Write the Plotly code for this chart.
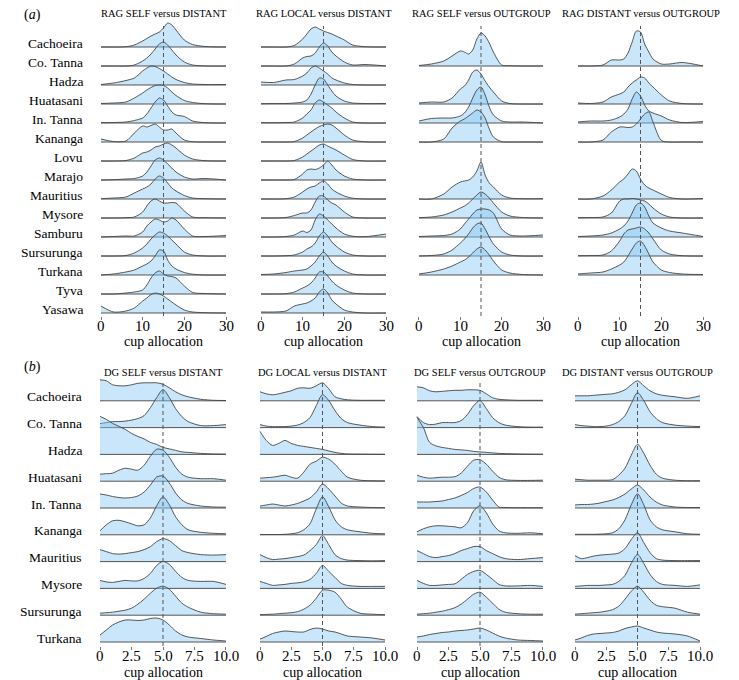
import plotly.graph_objects as go

# ---------------- data ----------------
X_A = [0, 3, 6, 8, 10, 11, 12, 13, 14, 15, 16, 17, 18, 20, 22, 25, 30]
X_B = [0, 0.5, 1, 1.5, 2, 2.5, 3, 3.5, 4, 4.5, 5, 5.5, 6, 6.5, 7, 8, 9, 10]
TICKS_A = [0, 10, 20, 30]
TICKTEXT_A = ["0", "10", "20", "30"]
TICKS_B = [0, 2.5, 5, 7.5, 10]
TICKTEXT_B = ["0", "2.5", "5.0", "7.5", "10.0"]

SITES_A = ["Cachoeira", "Co. Tanna", "Hadza", "Huatasani", "In. Tanna", "Kananga", "Lovu",
           "Marajo", "Mauritius", "Mysore", "Samburu", "Sursurunga", "Turkana", "Tyva", "Yasawa"]
SITES_B = ["Cachoeira", "Co. Tanna", "Hadza", "Huatasani", "In. Tanna", "Kananga",
           "Mauritius", "Mysore", "Sursurunga", "Turkana"]

# density heights (relative units) at the X_A / X_B grid points
RAG_SELF_DISTANT = {
    "Cachoeira": [0, 0, 0.3, 2, 6, 8.5, 11, 13, 15, 19, 24, 22, 17, 7, 2.5, 0.5, 0],
    "Co. Tanna": [0, 0, 0, 1, 5, 8, 12, 17, 22, 24, 21, 16, 11, 4, 1, 0, 0],
    "Hadza": [0.5, 2, 4.5, 7, 14, 17, 19, 18.5, 16.5, 14, 11, 8, 5.5, 2.5, 1, 0.5, 0.5],
    "Huatasani": [0.5, 1, 2, 6, 11, 14, 16.5, 18.5, 19, 18.5, 16, 12, 8.5, 3.5, 1.5, 0.3, 0],
    "In. Tanna": [0.3, 0.5, 1, 2.5, 5, 9, 15, 21, 25, 23, 17, 11, 8, 6.5, 2, 0.3, 0],
    "Kananga": [3, 0.5, 1, 9, 16, 15, 16.5, 18, 15, 12, 12, 13, 9, 2, 0.3, 0, 0],
    "Lovu": [0, 0, 0.5, 3, 8, 9, 11, 14, 15, 17, 18, 16, 13, 6, 2, 0.3, 0],
    "Marajo": [0, 0.3, 1, 1.5, 4, 8, 14, 20, 22, 20, 16, 12, 8, 3, 1, 1.5, 0],
    "Mauritius": [0.3, 1, 2, 6, 10, 12, 15, 20, 23, 21, 16, 11, 8, 3.5, 1, 0.3, 0],
    "Mysore": [0, 0, 0.3, 1, 6, 12, 17, 19, 17, 15, 15, 15.5, 15, 7, 1, 0.3, 0],
    "Samburu": [0, 0.5, 1, 1, 5, 11, 15, 18, 17, 15, 16, 19, 17, 8, 1, 0.5, 1.5],
    "Sursurunga": [0, 0, 0.5, 3, 8, 12, 17, 21, 24, 23, 20, 16, 12, 4, 1, 0, 0],
    "Turkana": [0, 1, 3, 5, 9, 11, 14, 19, 25, 24, 15, 9, 6, 2.5, 0.8, 0, 0],
    "Tyva": [0, 0, 1, 2, 4, 9, 16, 21, 23, 20, 18, 17.5, 16, 8, 1.5, 0.5, 0],
    "Yasawa": [7, 1, 2, 5, 12, 15, 18.5, 20, 19, 17, 14, 11, 8, 3, 1, 0.3, 0],
}
RAG_LOCAL_DISTANT = {
    "Cachoeira": [0, 0, 0, 1.5, 8, 13, 18, 20, 18, 16, 14.5, 13, 11, 7, 2, 0.3, 0],
    "Co. Tanna": [0, 0, 0, 2, 8, 9.5, 10, 13, 19, 23, 20, 14, 10, 4, 1, 1.5, 0],
    "Hadza": [3, 2.5, 5, 5.5, 9, 12, 17, 19, 17, 14, 11, 7, 5, 2, 0.5, 0, 0],
    "Huatasani": [0.3, 0.5, 0.5, 1, 2, 4, 10, 19, 26, 25, 19, 13, 8, 3, 1, 0.5, 0.5],
    "In. Tanna": [0.3, 0.3, 0.5, 1, 5, 9, 13, 20, 23, 21, 18, 15, 11, 5, 1, 0, 0],
    "Kananga": [0, 0, 0, 0.5, 4, 7, 10, 13, 15.5, 17, 18, 17, 14, 7, 2, 0.2, 0],
    "Lovu": [0, 0, 0, 0.5, 4, 7, 10, 13, 16, 17, 15, 13, 11, 6, 1.5, 0, 0],
    "Marajo": [0, 0, 0, 0.5, 6, 10, 11, 10.5, 12, 15, 19, 15, 10, 4, 1, 0, 0],
    "Mauritius": [0, 0, 0.3, 2, 7, 10, 12, 13, 16, 18, 15, 10, 7, 3, 0.8, 0, 0],
    "Mysore": [0, 0, 0.5, 2.5, 5, 5, 8, 16, 22, 22, 18, 15, 13, 6, 1, 0, 0],
    "Samburu": [0, 0, 0.5, 2, 6, 4.5, 7, 17, 23, 21, 17, 13, 9, 3, 0.8, 0.3, 3],
    "Sursurunga": [0, 0, 0.3, 1, 4, 7, 9, 13, 20, 24, 20, 14, 10, 4, 1, 0, 0],
    "Turkana": [0.5, 1, 2.5, 4, 5, 6, 9, 13, 19, 23, 19, 13, 9, 4, 1, 0, 0],
    "Tyva": [0, 0, 0.3, 2, 6, 8, 11, 16, 22, 22, 18, 13, 9, 4, 1, 0, 0],
    "Yasawa": [1, 1, 2, 7, 9, 10, 12, 15, 21, 24, 20, 13, 9, 3, 1, 0, 0],
}
RAG_SELF_OUTGROUP = {
    "Co. Tanna": [0.5, 2, 5, 10, 15, 14, 12, 16, 27, 33, 30, 23, 14, 1, 0.3, 0, 0],
    "Huatasani": [1, 2, 2, 6, 15, 18, 24, 32, 34, 30, 23, 17, 12, 3, 0.5, 0, 0],
    "In. Tanna": [2, 4.5, 5, 5, 7, 10, 16, 25, 33, 36, 28, 16, 8, 2, 1, 1, 0],
    "Kananga": [0, 0, 3, 14, 21, 23, 26, 29, 32, 30, 24, 13, 5, 0.3, 0, 0, 0],
    "Mauritius": [0, 0, 5, 12, 17, 18, 19, 22, 28, 37, 24, 16, 12, 4, 1, 0.3, 0.3],
    "Mysore": [0.3, 1, 3, 6, 10, 12, 15, 19, 23, 26, 24, 20, 15, 6, 2, 0.5, 0],
    "Samburu": [0.5, 1, 1.5, 3, 8, 13, 18, 23, 27, 28, 28, 27, 24, 8, 2, 1, 2],
    "Sursurunga": [0, 0.5, 2, 6, 13, 17, 22, 28, 32, 33, 27, 19, 12, 4, 1, 0, 0],
    "Turkana": [1, 3, 6, 9, 13, 15, 18, 22, 26, 28, 25, 20, 14, 5, 2, 0.5, 0],
}
RAG_DISTANT_OUTGROUP = {
    "Co. Tanna": [0, 0, 1, 6, 6, 7, 13, 24, 35, 34, 22, 14, 7, 2, 2, 3.5, 0],
    "Huatasani": [1, 0.5, 2, 7, 10, 12, 17, 21, 24, 27, 26, 21, 17, 9, 3, 0.5, 0],
    "In. Tanna": [1, 2, 2, 3, 6, 9, 14, 24, 31, 27, 18, 12, 10, 7, 3, 0.5, 1.5],
    "Kananga": [0, 0, 2, 10, 15, 15, 14.5, 15, 18, 23, 28, 30, 20, 1.5, 0, 0, 0],
    "Mauritius": [0, 0, 3, 9, 17, 20, 25, 30, 28, 20, 14, 11, 9, 5, 1.5, 0, 0.5],
    "Mysore": [0.3, 0.5, 1, 5, 17, 19, 19, 19.5, 19, 18, 17, 14, 10, 4, 1, 0, 0],
    "Samburu": [0.5, 1, 2, 4, 8, 11, 16, 24, 32, 34, 30, 21, 14, 9, 6, 4, 0.5],
    "Sursurunga": [0.3, 0.5, 1, 5, 15, 22, 26, 27, 28, 29, 27, 23, 17, 6, 2, 0.3, 0],
    "Turkana": [1, 2, 3, 6, 10, 13, 19, 26, 32, 34, 29, 21, 13, 5, 2.5, 1, 0.5],
}
DG_SELF_DISTANT = {
    "Cachoeira": [21, 20, 16, 15, 15, 16, 17.5, 18, 18, 18, 16.5, 13, 9, 6, 4, 1.5, 0.5, 0.3],
    "Co. Tanna": [4, 5, 6, 6, 6.5, 7.5, 9, 12, 20, 30, 38, 30, 19, 11, 6, 2, 2, 3],
    "Hadza": [38, 35, 31, 28, 25, 21, 18, 15.5, 12, 10, 7, 5.5, 4, 2.5, 2, 1, 0.5, 0.3],
    "Huatasani": [7, 7.5, 8, 11, 13, 12, 11, 16, 25, 32, 31, 24, 14, 7, 4, 2.5, 2.5, 1],
    "In. Tanna": [14, 13, 11.5, 10.5, 10, 10.5, 12, 16, 23, 31, 32, 25, 15, 8, 4.5, 2, 1, 0.8],
    "Kananga": [4, 10, 14, 14.5, 13, 11, 9, 10, 17, 29, 38, 30, 18, 10, 5, 2.5, 1.5, 1],
    "Mauritius": [12, 10, 8, 7.5, 8, 9, 10, 12, 15, 20, 23, 21, 16, 11, 9, 7, 6.5, 7],
    "Mysore": [8, 6.5, 6, 7, 8, 7.5, 7.5, 10, 15, 23, 27, 24, 17, 11, 8, 7, 7, 4],
    "Sursurunga": [2, 2.5, 3, 4, 5, 7, 11, 16, 22, 27, 29, 26, 19, 12, 8, 3, 1.5, 1],
    "Turkana": [7, 12, 17, 20, 22, 22, 21.5, 22, 23.5, 24, 22, 17, 11, 7, 5, 3.5, 2, 1],
}
DG_LOCAL_DISTANT = {
    "Cachoeira": [9, 7, 6, 7, 8.5, 10, 12.5, 13, 12.5, 15, 18, 12, 4, 2, 1, 0.5, 0.5, 0.5],
    "Co. Tanna": [3, 1.5, 1, 1, 1, 1.5, 2.5, 5, 10, 22, 33, 27, 17, 9, 5, 2.5, 1, 0.5],
    "Hadza": [23, 14, 9, 11, 14, 11, 9, 8, 7, 6, 5, 3.5, 2, 1, 0.5, 0.3, 0.2, 0.1],
    "Huatasani": [3, 3.5, 4, 5, 6, 4, 3, 9, 17, 20, 24, 22, 17, 10, 4, 1, 0.5, 0.3],
    "In. Tanna": [2, 3, 4, 3, 2, 3, 4.5, 7, 10, 16, 24, 19, 12, 5, 2, 1, 0.5, 0.3],
    "Kananga": [0.3, 0.3, 0.3, 0.3, 0.5, 1, 2, 5, 11, 26, 38, 28, 15, 8, 5, 3, 1.5, 1],
    "Mauritius": [7, 4, 2, 2.5, 3, 4, 5, 6.5, 11, 17, 26, 17, 7, 3, 1.5, 1, 0.8, 1],
    "Mysore": [7, 5, 3, 3.5, 4, 5, 5.5, 6.5, 9, 15, 23, 17, 11, 5, 3, 2, 2, 2],
    "Sursurunga": [0.5, 0.8, 1, 1.5, 2, 2.5, 3.5, 6, 10, 17, 25, 25, 23, 16, 8, 2, 1, 0.5],
    "Turkana": [3, 5.5, 8.5, 10, 11, 10.5, 10, 10, 12.5, 14, 13, 11, 10, 8, 6, 5, 4, 2],
}
DG_SELF_OUTGROUP = {
    "Cachoeira": [14, 13, 10, 9, 9.5, 10, 10.5, 10.5, 11, 11, 10.5, 7, 3, 1.5, 1, 0.5, 0.5, 0.5],
    "Co. Tanna": [11, 5, 3, 3.5, 5, 5, 5, 7, 13, 22, 27, 19, 10, 5, 2.5, 1, 0.5, 0.5],
    "Hadza": [37, 27, 12, 8.5, 7, 6, 5, 4.5, 4, 3, 2.5, 2, 1.5, 1, 0.8, 0.5, 0.3, 0.2],
    "Huatasani": [6, 4, 3, 3.5, 4, 4, 4.5, 8, 15, 21, 21.5, 17, 10, 4, 1.5, 0.8, 0.8, 1],
    "In. Tanna": [6, 6, 6, 6.5, 7, 8.5, 10, 12.5, 15.5, 19.5, 21, 16, 8, 1, 0.5, 0.3, 0.3, 0.3],
    "Kananga": [3, 6, 8, 9, 9, 8.5, 8, 7, 12, 24, 29, 22, 11, 4, 2, 1.5, 2, 1],
    "Mauritius": [11, 8, 5, 4, 5, 6, 8, 11, 13, 15, 15, 11, 8, 5, 3, 2, 3, 4],
    "Mysore": [8, 5, 3, 3, 3.5, 4, 4.5, 9, 14, 17, 18, 14, 9, 4, 2.5, 2.5, 3, 2],
    "Sursurunga": [1, 1.5, 2, 3, 4, 5.5, 7.5, 11, 16, 21, 23, 18, 12, 6, 3, 1.5, 1, 1],
    "Turkana": [5, 6, 7.5, 8.5, 9.5, 10, 11, 11.5, 12, 13, 14, 12, 9, 6, 4, 2, 1.5, 1],
}
DG_DISTANT_OUTGROUP = {
    "Cachoeira": [5, 5, 5, 5.5, 6, 6.5, 7, 8.5, 11, 16, 20, 15, 10, 7, 5.5, 4, 2.5, 5],
    "Co. Tanna": [3, 2, 1.5, 1, 1, 1.5, 3, 6, 12, 24, 35, 27, 16, 9, 5, 2.5, 1.5, 1],
    "Huatasani": [2, 1.5, 1, 1, 1, 1, 1.5, 6, 13, 26, 37, 28, 16, 7, 3, 1, 0.5, 0.5],
    "In. Tanna": [3, 3.5, 3.5, 4, 5, 6.5, 8, 10.5, 14, 19, 23, 18, 11, 6, 3, 1, 0.5, 0.5],
    "Kananga": [0.5, 0.5, 0.5, 0.5, 0.7, 1, 2, 6, 15, 30, 41, 30, 15, 8, 5, 3, 1, 0.5],
    "Mauritius": [6, 3, 4, 5.5, 6.5, 7, 7.5, 8.5, 13, 22, 29, 19, 9, 3, 1.5, 1, 1, 1],
    "Mysore": [2, 2.5, 3, 3, 3, 3.5, 4, 7, 13, 25, 34, 25, 14, 7, 4, 3, 2, 3.5],
    "Sursurunga": [1, 1.5, 2, 2.5, 3, 4, 5.5, 9, 16, 24, 29, 23, 15, 10, 8.5, 7, 3, 1],
    "Turkana": [2, 4, 6.5, 8, 8.5, 9, 9.5, 11, 13.5, 15, 16, 14, 12, 10, 9, 8, 6, 1],
}

TITLES_A = ["RAG SELF versus DISTANT", "RAG LOCAL versus DISTANT",
            "RAG SELF versus OUTGROUP", "RAG DISTANT versus OUTGROUP"]
TITLES_B = ["DG SELF versus DISTANT", "DG LOCAL versus DISTANT",
            "DG SELF versus OUTGROUP", "DG DISTANT versus OUTGROUP"]
PANELS_A = [RAG_SELF_DISTANT, RAG_LOCAL_DISTANT, RAG_SELF_OUTGROUP, RAG_DISTANT_OUTGROUP]
PANELS_B = [DG_SELF_DISTANT, DG_LOCAL_DISTANT, DG_SELF_OUTGROUP, DG_DISTANT_OUTGROUP]

# ---------------- layout / styling ----------------
W, H = 739, 680
FONT = "Liberation Serif, Times New Roman, serif"
FILL = "rgba(135,200,245,0.45)"
LINE = "#444444"
TXT = "#000000"


def dom_x(a, b):
    return [a / W, b / W]


def dom_y(top, bottom):
    return [1 - bottom / H, 1 - top / H]


SECTIONS = [
    dict(sites=SITES_A, panels=PANELS_A, titles=TITLES_A, grid=X_A, xmax=30, mid=15,
         ticks=TICKS_A, ticktext=TICKTEXT_A, step=19.0, yname="y", yrange=[-3, 295],
         ydom=(18, 316), xrange=[-0.6, 30.6],
         xdoms=[(98.5, 228.5), (258.5, 388.5), (416.5, 545.5), (575.5, 705.5)],
         dash_top=287, title_y=13, tick_y=326, label_y=341, tag="(<i>a</i>)", tag_y=15,
         label_x=85),
    dict(sites=SITES_B, panels=PANELS_B, titles=TITLES_B, grid=X_B, xmax=10, mid=5,
         ticks=TICKS_B, ticktext=TICKTEXT_B, step=26.8, yname="y2", yrange=[-4, 276],
         ydom=(366, 646), xrange=[-0.2, 10.2],
         xdoms=[(97.5, 228.5), (257.5, 387.5), (414.5, 545.5), (572.5, 702.5)],
         dash_top=262, title_y=372, tick_y=656, label_y=672, tag="(<i>b</i>)", tag_y=367,
         label_x=84),
]

fig = go.Figure()
layout = dict(width=W, height=H, margin=dict(l=0, r=0, t=0, b=0),
              paper_bgcolor="white", plot_bgcolor="white", showlegend=False,
              font=dict(family=FONT, color=TXT))
annotations = []
shapes = []

k = 0
for si, sec in enumerate(SECTIONS):
    yax = "yaxis" if sec["yname"] == "y" else "yaxis2"
    layout[yax] = dict(domain=dom_y(*sec["ydom"]), range=sec["yrange"], visible=False,
                       fixedrange=True)
    n = len(sec["sites"])
    for p, (data, title) in enumerate(zip(sec["panels"], sec["titles"])):
        k += 1
        xname = "x" if k == 1 else f"x{k}"
        xax = "xaxis" if k == 1 else f"xaxis{k}"
        a, b = sec["xdoms"][p]
        layout[xax] = dict(domain=dom_x(a, b), range=sec["xrange"], anchor=sec["yname"],
                           tickvals=sec["ticks"], showticklabels=False,
                           ticks="outside", ticklen=3, tickcolor="#777", tickwidth=1,
                           showgrid=False, zeroline=False, showline=False, fixedrange=True)
        for i, site in enumerate(sec["sites"]):
            if site not in data:
                continue
            base = (n - 1 - i) * sec["step"]
            fig.add_trace(go.Scatter(x=[0, sec["xmax"]], y=[base, base], mode="lines",
                                     line=dict(color=LINE, width=0.9),
                                     xaxis=xname, yaxis=sec["yname"], hoverinfo="skip"))
            fig.add_trace(go.Scatter(x=sec["grid"], y=[base + v for v in data[site]],
                                     mode="lines", line=dict(color=LINE, width=0.9,
                                                             shape="spline", smoothing=0.8),
                                     fill="tonexty", fillcolor=FILL,
                                     xaxis=xname, yaxis=sec["yname"], hoverinfo="skip"))
        shapes.append(dict(type="line", xref=xname, yref=sec["yname"], x0=sec["mid"],
                           x1=sec["mid"], y0=sec["yrange"][0], y1=sec["dash_top"],
                           line=dict(color="#555", width=1, dash="4px,3px"), layer="above"))
        # tick labels placed on the axis scale
        for tv, tt in zip(sec["ticks"], sec["ticktext"]):
            annotations.append(dict(text=tt, x=tv, xref=xname, y=1 - sec["tick_y"] / H,
                                    yref="paper", showarrow=False, xanchor="center",
                                    yanchor="middle",
                                    font=dict(family=FONT, size=15, color=TXT)))
        cx = (a + b) / 2 / W
        annotations.append(dict(text=title, x=cx, y=1 - sec["title_y"] / H, xref="paper",
                                yref="paper", showarrow=False, xanchor="center",
                                yanchor="middle", font=dict(family=FONT, size=10.5, color=TXT)))
        annotations.append(dict(text="cup allocation", x=cx, y=1 - sec["label_y"] / H,
                                xref="paper", yref="paper", showarrow=False,
                                xanchor="center", yanchor="middle",
                                font=dict(family=FONT, size=14, color=TXT)))
    for i, site in enumerate(sec["sites"]):
        base = (n - 1 - i) * sec["step"]
        annotations.append(dict(text=site, x=sec["label_x"] / W, xref="paper", y=base + 4,
                                yref=sec["yname"], showarrow=False, xanchor="right",
                                yanchor="middle", font=dict(family=FONT, size=13.5, color=TXT)))
    annotations.append(dict(text=sec["tag"], x=32 / W, y=1 - sec["tag_y"] / H, xref="paper",
                            yref="paper", showarrow=False, xanchor="center", yanchor="middle",
                            font=dict(family=FONT, size=14, color=TXT)))

layout["annotations"] = annotations
layout["shapes"] = shapes
fig.update_layout(**layout)
fig.write_html("out.html")
